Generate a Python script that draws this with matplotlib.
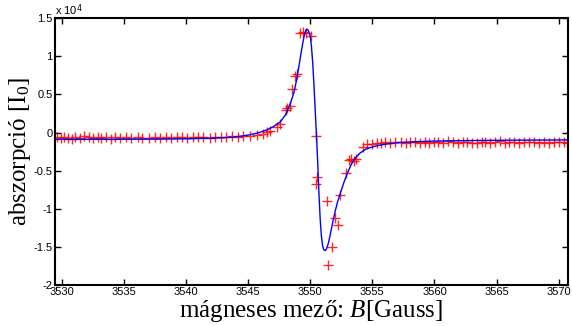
import matplotlib.pyplot as plt
import numpy as np

plt.rcParams['mathtext.fontset'] = 'custom'
plt.rcParams['mathtext.rm'] = 'Liberation Serif'
plt.rcParams['mathtext.it'] = 'Liberation Serif:italic'

# fitted curve (blue line)
fit_B = [3529.45, 3532, 3535, 3538, 3540, 3542, 3543, 3543.8, 3544.5, 3545.1,
         3545.8, 3546.5, 3547.0, 3547.6, 3548.0, 3548.4, 3548.7, 3548.9, 3549.1, 3549.3,
         3549.5, 3549.65, 3549.75, 3549.85, 3550.0, 3550.1, 3550.2, 3550.3, 3550.4, 3550.5,
         3550.6, 3550.7, 3550.8, 3550.9, 3551.0, 3551.1, 3551.2, 3551.3, 3551.45, 3551.6,
         3551.8, 3552.0, 3552.2, 3552.4, 3552.7, 3553.0, 3553.3, 3553.6, 3554.0, 3554.5,
         3555.1, 3555.6, 3556.2, 3557.2, 3558.5, 3560, 3562.5, 3565, 3568, 3570.75]
fit_I = [-900, -890, -880, -860, -820, -740, -680, -600, -450, -300,
         -50, 340, 750, 1400, 2300, 3800, 5300, 6900, 8800, 10800,
         12600, 13450, 13550, 13400, 12700, 11300, 9200, 6300, 3000, -300,
         -3800, -7900, -11300, -13600, -14900, -15400, -15500, -15300, -14600, -13500,
         -11900, -10400, -9100, -8100, -6600, -5300, -4200, -3400, -2700, -2150,
         -1850, -1650, -1500, -1320, -1200, -1120, -1060, -1020, -990, -970]

# measured points (red crosses)
meas_B = [3529.6, 3529.9, 3530.2, 3530.5, 3530.8, 3531.1, 3531.5, 3531.8, 3532.2, 3532.5,
          3532.9, 3533.2, 3533.6, 3534.0, 3534.3, 3534.7, 3535.2, 3535.6, 3536.1, 3536.5,
          3537.0, 3537.5, 3537.9, 3538.4, 3538.8, 3539.3, 3539.7, 3540.1, 3540.6, 3541.0,
          3541.4, 3541.9, 3542.3, 3542.8, 3543.2, 3543.7, 3544.2, 3544.6,
          3545.15, 3545.7, 3546.2, 3546.5, 3546.8, 3547.3, 3547.6, 3548.05, 3548.1, 3548.4,
          3548.5, 3548.8, 3548.9, 3549.2, 3549.45, 3549.7, 3550.1, 3550.45,
          3550.47, 3550.57, 3551.33, 3551.46, 3551.73, 3552.0, 3552.2, 3552.4, 3552.9, 3553.1,
          3553.3, 3553.5, 3553.7, 3554.25,
          3554.6, 3554.95, 3555.36, 3555.7, 3556.0, 3556.4, 3556.8, 3557.3, 3557.7, 3558.0,
          3558.4, 3558.8, 3559.2, 3559.6, 3560.0, 3560.3, 3560.7, 3561.1, 3561.5, 3561.9,
          3562.3, 3562.6, 3563.0, 3563.4, 3563.8, 3564.1, 3564.5, 3564.9, 3565.3, 3565.7,
          3566.0, 3566.4, 3566.8, 3567.2, 3567.6, 3568.0, 3568.4, 3568.8, 3569.2, 3569.6,
          3570.0, 3570.4, 3570.7]
meas_I = [-620, -750, -540, -680, -800, -590, -710, -480, -650, -760,
          -560, -700, -620, -820, -540, -690, -610, -740, -580, -660,
          -720, -540, -680, -600, -770, -640, -560, -700, -620, -650,
          -580, -700, -600, -540, -620, -480, -520, -420,
          -450, -310, -180, 120, 250, 770, 1130, 2960, 3190, 3490,
          5680, 7430, 7690, 13030, 13240, 13030, 12670, -450,
          -6740, -5780, -9000, -17370, -15050, -11240, -12120, -8190, -5340, -3600,
          -3500, -3690, -3500, -1850,
          -1450, -1500, -1400, -1320, -1250, -1380, -1290, -1200, -1350, -1260,
          -1180, -1330, -1240, -1420, -1300, -1220, -1350, -1160, -1280, -1370,
          -1250, -1190, -1320, -1400, -1260, -1210, -1330, -1280, -1170, -1360,
          -1240, -1300, -1410, -1230, -1290, -1190, -1340, -1260, -1380, -1220,
          -1300, -1250, -1330]

ytick_vals = [-20000, -15000, -10000, -5000, 0, 5000, 10000, 15000]
ytick_labels = ['-2', '-1.5', '-1', '-0.5', '0', '0.5', '1', '1.5']
xtick_vals = [3530, 3535, 3540, 3545, 3550, 3555, 3560, 3565, 3570]

fig = plt.figure(figsize=(5.72, 3.26), dpi=100)
ax = fig.add_axes([0.096, 0.126, 0.897, 0.818])

ax.plot(meas_B, meas_I, '+', color='red', markersize=7.5, markeredgewidth=1.0, alpha=0.85)
ax.plot(fit_B, fit_I, '-', color='blue', linewidth=1.0)

ax.set_xlim(3529.45, 3570.75)
ax.set_ylim(-20000, 15000)
ax.set_xticks(xtick_vals)
ax.set_xticklabels([str(v) for v in xtick_vals], fontfamily='Liberation Sans', fontsize=8)
ax.set_yticks(ytick_vals)
ax.set_yticklabels(ytick_labels, fontfamily='Liberation Sans', fontsize=8)
ax.tick_params(direction='in', top=True, right=True, length=4, width=1, pad=1.5)
for sp in ax.spines.values():
    sp.set_linewidth(1.5)

ax.text(0.0, 1.0, 'x 10$^{\\mathsf{4}}$', transform=ax.transAxes, ha='left', va='bottom',
        fontfamily='Liberation Sans', fontsize=8)

ax.set_xlabel('mágneses mező: $B$[Gauss]', fontfamily='Liberation Serif', fontsize=18, labelpad=0.5)
ax.set_ylabel('abszorpció [I$_0$]', fontfamily='Liberation Serif', fontsize=18, labelpad=0.5)

fig.savefig('out.png', dpi=100)
